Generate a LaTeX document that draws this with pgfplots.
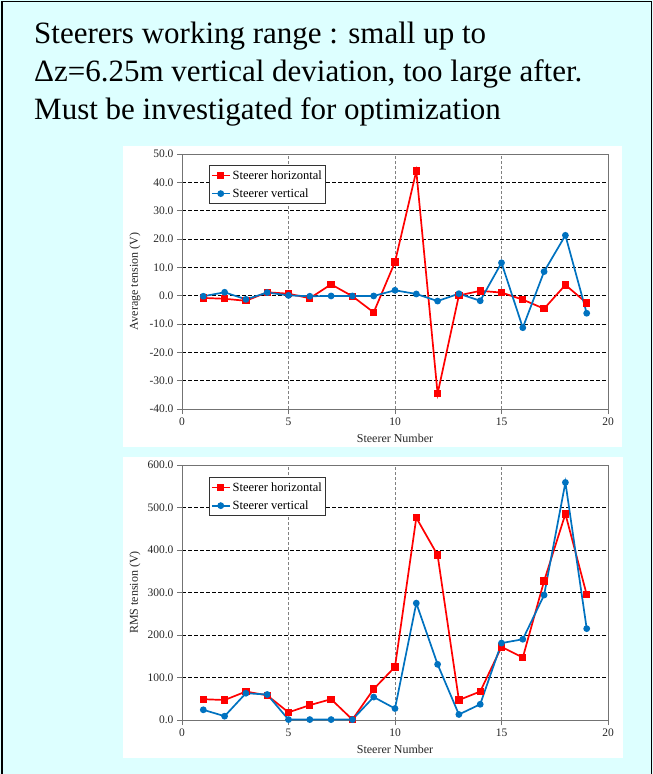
\documentclass[border=0pt]{standalone}
\usepackage{fontspec}
\setmainfont{Liberation Serif}
\usepackage{pgfplots}
\usepackage{pgfplotstable}
\pgfplotsset{compat=1.18}
\definecolor{bgc}{RGB}{221,255,255}
\definecolor{sred}{RGB}{255,0,0}
\definecolor{sblue}{RGB}{0,114,192}

\pgfplotstableread{
x avgh avgv rmsh rmsv
1  -0.8 -0.2  49  24
2  -1.1  1.2  47   9
3  -1.8 -1.3  67  63
4   1.2  1.1  58  60
5   0.7  0.1  18   1
6  -0.9 -0.2  35   1
7   4.0 -0.1  49   1
8  -0.2 -0.1   1   1
9  -5.9 -0.1  73  54
10 11.9  1.9 125  27
11 44.0  0.6 476 275
12 -34.6 -1.9 388 131
13  0.1  0.7  47  13
14  1.7 -1.8  67  37
15  1.1 11.6 172 181
16 -1.4 -11.3 147 190
17 -4.6  8.5 327 294
18  3.8 21.3 485 559
19 -2.6 -6.2 295 215
}\steerdata

\pgfplotsset{
  steer/.style={
    scale only axis, width=426pt, height=255pt,
    xmin=0, xmax=20, xtick={0,5,10,15,20},
    axis line style={draw=black!55, line width=0.9pt},
    tick style={draw=black!55, line width=0.8pt},
    tick align=outside, major tick length=5pt, tick pos=left,
    xmajorgrids, ymajorgrids,
    x grid style={dash pattern=on 3pt off 2pt, black!50, line width=0.8pt},
    y grid style={dash pattern=on 4pt off 2pt, black, line width=0.8pt},
    tick label style={font=\fontsize{11.5}{13}\selectfont, text=black!85},
    /pgf/number format/assume math mode=true,
    yticklabel style={/pgf/number format/.cd, fixed, fixed zerofill, precision=1},
    label style={font=\fontsize{12}{14}\selectfont, text=black!85},
    xlabel={Steerer Number},
    xlabel style={at={(axis description cs:0.5,-0.1294)}, anchor=base},
    ylabel style={at={(axis description cs:-0.1103,0.5)}, anchor=center},
    legend style={draw=black!80, line width=0.8pt, fill=white,
      font=\fontsize{12.5}{14}\selectfont, cells={anchor=west},
      inner xsep=1.5pt, inner ysep=3pt, row sep=4pt},
    legend image code/.code={\draw[mark repeat=2,mark phase=2,#1] plot coordinates {(0pt,0pt) (9pt,0pt) (18pt,0pt)};},
    hser/.style={color=sred, line width=1.7pt, mark=square*, mark size=2.8pt, mark options={solid}},
    vser/.style={color=sblue, line width=1.7pt, mark=*, mark size=2.5pt, mark options={solid}},
  }
}

\begin{document}
\begin{tikzpicture}
\useasboundingbox (0pt,0pt) rectangle (653pt,-774pt);
\fill[bgc] (0pt,0pt) rectangle (653pt,-774pt);
\draw[line width=1.5pt] (2pt,-774pt) -- (2pt,-1.5pt) -- (651.5pt,-1.5pt) -- (651.5pt,-774pt);
\fill[white] (123pt,-146pt) rectangle (622pt,-447pt);
\fill[white] (123pt,-457pt) rectangle (623pt,-758pt);

\node[anchor=base west, inner sep=0, font=\fontsize{31}{37}\selectfont] at (34pt,-43.5pt) {Steerers working range : small up to};
\node[anchor=base west, inner sep=0, font=\fontsize{31}{37}\selectfont] at (34pt,-81.5pt) {Δz=6.25m vertical deviation, too large after.};
\node[anchor=base west, inner sep=0, font=\fontsize{31}{37}\selectfont] at (34pt,-119pt) {Must be investigated for optimization};

\begin{axis}[steer, at={(182pt,-409pt)}, anchor=south west,
  ymin=-40, ymax=50, ytick={-40,-30,...,50},
  ylabel={Average tension (V)},
  legend style={at={(rel axis cs:0.0634,0.957)}, anchor=north west}]
\addplot[hser] table[x=x, y=avgh] {\steerdata};
\addlegendentry{Steerer horizontal}
\addplot[vser] table[x=x, y=avgv] {\steerdata};
\addlegendentry{Steerer vertical}
\end{axis}

\begin{axis}[steer, at={(182pt,-720pt)}, anchor=south west,
  ymin=0, ymax=600, ytick={0,100,...,600},
  ylabel={RMS tension (V)},
  legend style={at={(rel axis cs:0.0634,0.953)}, anchor=north west}]
\addplot[hser] table[x=x, y=rmsh] {\steerdata};
\addlegendentry{Steerer horizontal}
\addplot[vser] table[x=x, y=rmsv] {\steerdata};
\addlegendentry{Steerer vertical}
\end{axis}
\end{tikzpicture}
\end{document}
